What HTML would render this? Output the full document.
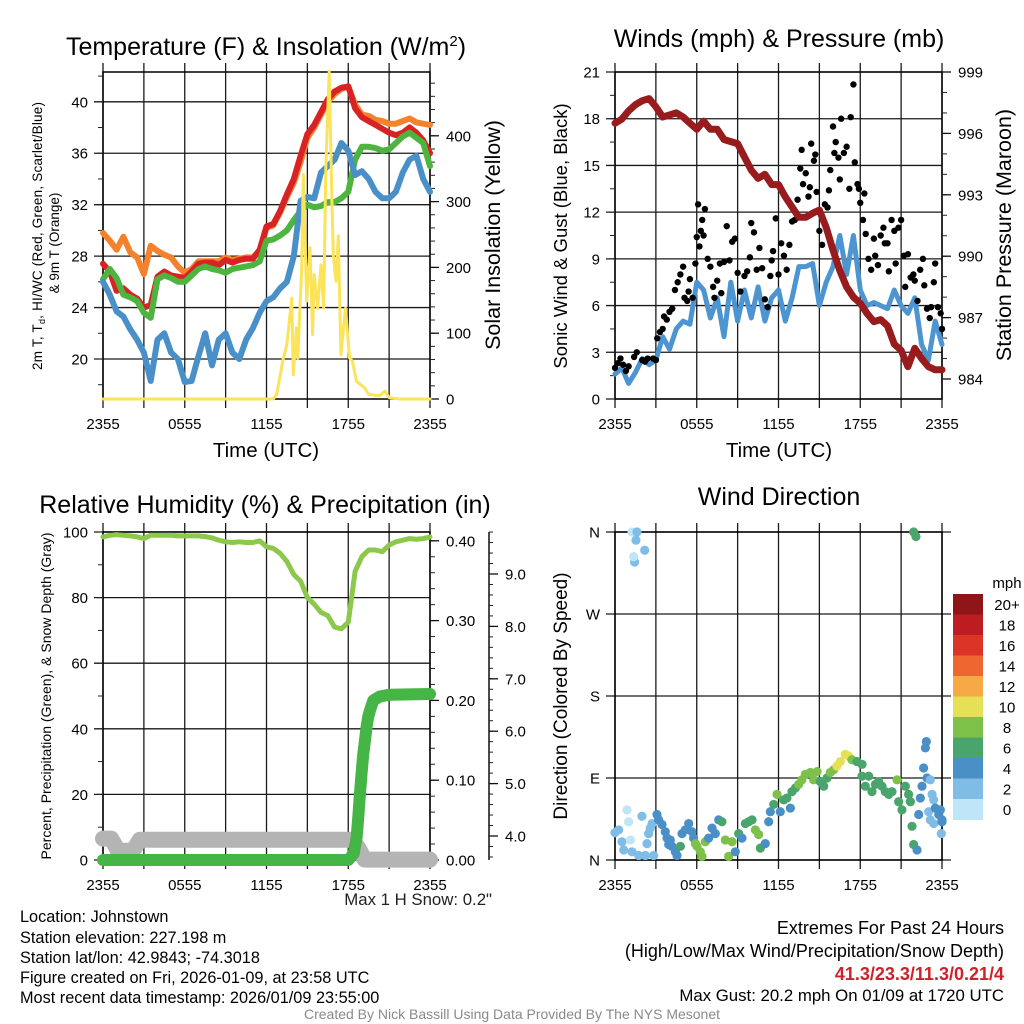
<!DOCTYPE html>
<html><head><meta charset="utf-8"><style>
html,body{margin:0;padding:0;background:#fff;}
svg{display:block;font-family:"Liberation Sans",Arial,sans-serif;}
</style></head><body>
<svg id="chart" width="1024" height="1024" viewBox="0 0 1024 1024" xmlns="http://www.w3.org/2000/svg">
<rect x="0" y="0" width="1024" height="1024" fill="#fff"/>
<g id="layer"></g>
<!-- titles -->
<text x="266" y="55" font-size="25" text-anchor="middle">Temperature (F) &amp; Insolation (W/m<tspan dy="-9" font-size="15">2</tspan><tspan dy="9">)</tspan></text>
<text x="779" y="47" font-size="25" text-anchor="middle">Winds (mph) &amp; Pressure (mb)</text>
<text x="265" y="513" font-size="25" text-anchor="middle">Relative Humidity (%) &amp; Precipitation (in)</text>
<text x="779" y="505" font-size="25" text-anchor="middle">Wind Direction</text>
<!-- axis titles -->
<text x="266" y="457" font-size="20.5" text-anchor="middle">Time (UTC)</text>
<text x="779" y="457" font-size="20.5" text-anchor="middle">Time (UTC)</text>
<text transform="translate(42,236) rotate(-90)" font-size="13.5" text-anchor="middle" textLength="268">2m T, T<tspan font-size="9" dy="3">d</tspan><tspan dy="-3">, HI/WC (Red, Green, Scarlet/Blue)</tspan></text>
<text transform="translate(59,243) rotate(-90)" font-size="13.5" text-anchor="middle">&amp; 9m T (Orange)</text>
<text transform="translate(500,235) rotate(-90)" font-size="21.5" text-anchor="middle">Solar Insolation (Yellow)</text>
<text transform="translate(567,236) rotate(-90)" font-size="18.5" text-anchor="middle">Sonic Wind &amp; Gust (Blue, Black)</text>
<text transform="translate(1011,235) rotate(-90)" font-size="21.5" text-anchor="middle">Station Pressure (Maroon)</text>
<text transform="translate(51,696) rotate(-90)" font-size="14" text-anchor="middle" textLength="327">Percent, Precipitation (Green), &amp; Snow Depth (Gray)</text>
<text transform="translate(567,696) rotate(-90)" font-size="19" text-anchor="middle">Direction (Colored By Speed)</text>
<!-- info text -->
<text x="492" y="905" font-size="16.8" text-anchor="end" fill="#222">Max 1 H Snow: 0.2"</text>
<g font-size="16.3" fill="#000">
<text x="20" y="922">Location: Johnstown</text>
<text x="20" y="943">Station elevation: 227.198 m</text>
<text x="20" y="963">Station lat/lon: 42.9843; -74.3018</text>
<text x="20" y="983">Figure created on Fri, 2026-01-09, at 23:58 UTC</text>
<text x="20" y="1003">Most recent data timestamp: 2026/01/09 23:55:00</text>
</g>
<g font-size="18" text-anchor="end">
<text x="1004" y="934">Extremes For Past 24 Hours</text>
<text x="1004" y="957">(High/Low/Max Wind/Precipitation/Snow Depth)</text>
<text x="1004" y="980" fill="#d02028" font-weight="bold">41.3/23.3/11.3/0.21/4</text>
<text x="1004" y="1001" font-size="16.8">Max Gust: 20.2 mph On 01/09 at 1720 UTC</text>
</g>
<text x="512" y="1019" font-size="14" fill="#8a8a8a" text-anchor="middle">Created By Nick Bassill Using Data Provided By The NYS Mesonet</text>
</svg>
<script>
// ---- data ----
const halfHours = [0,0.5,1,1.5,2,2.5,3,3.5,4,4.5,5,5.5,6,6.5,7,7.5,8,8.5,9,9.5,10,10.5,11,11.5,12,12.5,13,13.5,14,14.5,15,15.5,16,16.5,17,17.5,18,18.5,19,19.5,20,20.5,21,21.5,22,22.5,23,23.5,24];
const tempRed = [27.4,26.8,25.3,25.5,25.0,24.7,24.0,24.2,26.4,26.8,26.5,26.4,26.3,26.8,27.4,27.5,27.5,27.3,27.7,27.5,27.7,27.8,27.8,28.5,30.3,30.5,31.5,32.8,34.0,35.8,37.5,38.2,39.2,40.2,40.8,41.1,41.2,39.5,38.8,38.5,38.2,37.9,37.6,37.4,37.6,38.0,37.6,37.0,36.0];
const temp9m = [29.8,29.2,28.5,29.5,28.3,27.9,26.6,28.8,28.4,28.1,27.9,27.2,26.7,27.0,27.6,27.6,27.6,27.6,27.9,27.7,27.8,27.9,27.9,28.4,30.2,30.4,31.4,32.6,33.7,35.3,37.2,38.0,39.0,40.0,40.6,41.0,41.2,39.8,39.0,38.9,38.6,38.5,38.3,38.3,38.5,38.7,38.4,38.3,38.2];
const tempGreen = [26.2,27.0,26.3,25.0,24.8,24.5,23.6,23.2,26.2,26.5,26.3,26.0,26.0,26.5,27.0,27.2,27.0,26.9,26.7,27.0,27.1,27.2,27.3,27.6,29.2,29.3,29.6,30.0,30.8,31.5,32.0,31.8,31.9,32.2,32.2,32.5,33.0,35.5,36.5,36.5,36.4,36.2,36.3,36.8,37.3,37.6,37.2,36.8,35.0];
const tempBlue = [26.0,25.0,23.7,23.3,22.3,21.5,20.5,18.3,21.5,22.0,20.5,20.0,18.2,18.3,20.2,22.0,19.5,21.5,22.0,20.5,20.0,21.5,22.4,23.6,24.5,24.8,25.5,26.0,28.0,32.3,32.6,32.5,34.5,35.0,35.5,36.8,36.2,34.3,34.6,34.0,33.0,32.5,32.5,33.0,34.5,35.5,35.8,34.0,33.0];
const insTimes = [0,12.5,12.75,13.2,13.5,13.85,13.97,14.2,14.3,14.58,14.7,14.95,15.19,15.38,15.5,15.75,16,16.2,16.35,16.6,16.8,16.9,17.1,17.27,17.46,17.8,18.1,18.3,18.6,19.2,19.5,20.3,20.7,21,21.8,24];
const insValues = [0,0,7,58,83,153,37,108,62,199,341,149,230,98,189,138,204,138,351,498,301,219,179,248,67,138,62,58,27,17,7,5,12,2,0,0];
const windSpeed = [1.6,2.0,1.0,1.7,2.6,2.2,2.5,4.0,3.2,4.5,5.0,4.8,7.5,7.0,5.2,6.5,4.0,7.5,5.0,7.0,5.2,7.2,5.0,6.5,7.0,5.0,6.5,8.5,8.5,8.7,6.0,7.5,8.5,10.5,8.0,10.5,7.0,6.0,6.2,6.0,5.8,7.0,6.0,5.5,6.5,3.5,2.5,5.0,3.5];
const pressure = [996.5,996.7,997.1,997.4,997.6,997.7,997.3,996.8,996.9,997.0,996.8,996.5,996.2,996.6,996.2,996.2,995.7,995.6,995.5,994.85,994.2,993.8,994.0,993.5,993.5,992.9,992.4,991.9,991.9,992.1,992.25,991.4,990.3,989.3,988.5,988.0,987.7,987.2,986.8,986.9,986.6,985.7,985.4,984.6,985.5,985.0,984.6,984.45,984.45];
const gustTimes = [0,0.2,0.4,0.6,0.8,1.0,1.4,1.6,2.0,2.2,2.4,2.8,3.0,3.1,3.3,3.5,3.6,3.8,4.0,4.2,4.4,4.6,4.8,5.0,5.1,5.3,5.4,5.5,5.7,5.9,6.0,6.1,6.2,6.3,6.4,6.5,6.6,6.8,7.0,7.2,7.3,7.5,7.7,7.8,8.0,8.2,8.4,8.6,8.8,9.0,9.2,9.5,9.7,9.9,10.0,10.2,10.4,10.6,10.8,11.0,11.2,11.4,11.5,11.6,11.8,12.0,12.2,12.4,12.6,12.8,13.0,13.2,13.4,13.6,13.7,13.8,14.0,14.2,14.3,14.4,14.6,14.7,14.8,15.0,15.2,15.4,15.6,15.7,15.8,16.0,16.1,16.2,16.4,16.5,16.6,16.8,17.0,17.2,17.3,17.5,17.6,17.8,17.9,18.0,18.2,18.3,18.4,18.6,18.8,19.0,19.1,19.3,19.5,19.7,19.8,20.0,20.1,20.3,20.5,20.6,20.8,21.0,21.2,21.3,21.5,21.7,21.9,22.0,22.2,22.4,22.6,22.7,22.9,23.1,23.2,23.4,23.5,23.7,23.9,24.0];
const gustValues = [2.0,2.3,2.6,2.2,1.8,2.1,2.7,3.0,2.5,2.4,2.6,2.6,2.5,3.9,4.3,4.5,5.3,5.1,5.6,5.8,7.0,7.5,8.0,8.5,6.5,6.3,6.9,7.7,6.5,8.7,10.4,12.5,9.8,10.8,11.5,10.5,12.2,9.0,8.5,7.2,6.5,7.6,8.7,6.8,8.8,11.1,8.9,10.1,10.3,8.1,6.9,7.9,8.2,9.1,11.3,10.7,8.3,9.7,8.4,6.4,5.9,7.9,8.9,9.5,11.6,8.0,10.0,9.2,8.3,9.9,11.4,11.5,12.8,14.8,16.0,13.8,14.5,13.0,13.6,16.4,15.3,15.7,13.3,10.8,9.9,12.5,12.3,13.4,14.7,17.5,15.8,16.5,15.5,14.1,18.0,15.8,16.2,13.5,18.1,20.2,15.2,13.8,13.5,12.6,11.5,13.2,10.6,9.0,8.3,10.3,9.2,8.6,10.5,11.0,10.0,10.0,8.2,11.5,10.8,8.7,11.0,11.5,9.2,7.2,9.3,7.8,8.0,7.6,6.3,8.3,9.0,7.3,5.8,5.2,5.9,7.5,8.7,5.9,5.5,4.5];
const rh = [98.5,99,99.2,99,98.8,98.5,98,99,99,99,99,98.8,98.8,98.8,98.8,98.6,98.2,97.5,97,96.8,97,96.8,96.8,97.3,95.5,95,93.5,91,87,85,80,78,75.5,74.5,71,70.5,72.5,88,92.5,94.5,94.5,94,96,97,97.5,98,97.8,98,98.5];
const precipTimes = [0,18.0,18.4,18.62,18.74,18.86,18.98,19.1,19.23,19.35,19.47,19.6,19.84,20.33,21,24];
const precipValues = [0,0,0.008,0.029,0.054,0.084,0.109,0.132,0.150,0.167,0.180,0.188,0.200,0.205,0.207,0.208];
const snowTimes = [0,0.6,1.1,2.2,2.7,18.3,18.8,19.2,24];
const snowValues = [3.95,3.95,3.72,3.72,3.93,3.93,3.75,3.55,3.55];
const dirTimes = [0.0,0.27,0.51,0.88,1.0,1.13,0.64,1.25,1.74,1.98,2.23,2.35,2.47,2.59,2.72,2.84,3.08,3.2,3.45,3.69,3.82,3.94,4.06,4.18,4.43,4.55,4.8,4.92,5.16,5.41,5.65,5.77,5.9,6.02,6.26,6.39,6.63,6.87,7.12,7.36,7.61,7.85,8.1,8.34,8.59,8.83,9.08,9.32,9.57,9.81,10.06,10.3,10.54,10.67,11.03,11.28,11.4,11.65,11.89,12.13,12.38,12.62,12.87,12.99,13.24,13.48,13.72,13.97,14.34,14.58,14.83,15.07,15.32,15.56,15.8,16.05,16.29,16.54,16.9,17.15,17.39,17.76,18.13,18.13,18.37,18.62,18.86,19.11,19.35,19.6,19.84,20.09,20.33,20.7,20.82,21.06,21.31,21.55,21.68,21.8,21.92,21.92,22.09,22.17,22.29,22.41,22.53,22.65,22.78,22.85,22.9,23.14,23.27,23.39,23.02,23.14,23.39,23.51,23.76,23.88,24.0,23.95,24.0,1.25,1.61,1.54,1.44,1.37,2.18];
const dirValues = [30,33,20,55,42,22,11,9,5,48,5,18,29,35,40,5,50,44,39,31,24,17,22,15,9,5,15,29,33,40,31,24,18,15,9,4,20,24,35,29,44,42,22,4,20,9,29,24,40,42,44,33,28,13,18,42,53,61,72,53,66,68,57,75,79,83,88,94,96,88,97,86,81,90,96,99,103,108,116,114,110,108,105,92,81,92,75,83,86,81,75,72,75,88,64,55,81,72,64,37,17,360,355,11,50,68,81,101,123,130,90,88,72,66,53,44,40,57,50,55,42,29,44,360,360,351,327,333,340];
const dirSpeeds = [3,3,3,1,1,1,3,3,3,3,3,3,3,3,3,3,5,5,5,5,5,5,5,5,5,5,7,5,5,5,5,5,9,9,9,9,9,5,5,5,5,7,9,9,9,5,7,5,7,7,7,9,9,7,5,5,5,7,9,5,7,7,5,7,7,9,9,9,9,9,9,7,7,7,9,9,11,11,11,11,9,7,7,7,7,7,7,7,7,7,7,7,7,9,7,7,7,7,7,7,7,7,7,5,5,5,5,5,5,5,5,3,3,3,3,3,3,5,5,5,5,3,5,1,3,3,3,1,3];
const colorbarLabels = ["0","2","4","6","8","10","12","14","16","18","20+"];
const colorbarColors = ["#bfe6f8","#80bde6","#4a8fc6","#4aa56d","#7dc14a","#e6e057","#f6a944","#ef6730","#dd3428","#bd1c22","#8f1518"];
const timeTickLabels = ["2355","0555","1155","1755","2355"];

// ---- helpers ----
const NS = "http://www.w3.org/2000/svg";
const layer = document.getElementById("layer");
function mk(tag, attrs, parent) {
  const el = document.createElementNS(NS, tag);
  for (const k in attrs) el.setAttribute(k, attrs[k]);
  (parent || layer).appendChild(el);
  return el;
}
function linScale(d0, d1, r0, r1) { return v => r0 + (v - d0) / (d1 - d0) * (r1 - r0); }

const panels = {
  temp: {x0:103, x1:430, y0:72, y1:399},
  wind: {x0:615, x1:942, y0:72, y1:399},
  rh:   {x0:103, x1:430, y0:532, y1:860},
  dir:  {x0:615, x1:942, y0:532, y1:860}
};
for (const k in panels) { const p = panels[k]; p.x = linScale(0, 24, p.x0, p.x1); }

const yTemp = linScale(20, 40, 359, 101.8);
const yIns = linScale(0, 400, 399, 135.8);
const yWind = linScale(0, 21, 399, 72);
const yPres = linScale(984, 999, 379, 72);
const yRH = linScale(0, 100, 860, 532);
const yPrecip = linScale(0, 0.4, 860, 540.8);
const ySnow = linScale(4, 9, 836, 574);
const yDir = linScale(0, 360, 860, 532);

function drawFrame(p, name, hMajors, yF, labels, rightGrid) {
  const g = mk("g", {});
  
  
  hMajors.forEach((v, i) => {
    const y = yF(v);
    const ln = mk("line", {x1:p.x0-9, x2:p.x1 + (rightGrid ? 9 : 0), y1:y, y2:y, stroke:"#1a1a1a", "stroke-width":1.3}, g);
    
    
    const tx = mk("text", {x:p.x0-15, y:y+5.5, "font-size":15, "text-anchor":"end"}, g);
    tx.textContent = labels[i];
    
    
  });
  for (let h = 0; h <= 24; h += 3) {
    const x = p.x(h);
    const ln = mk("line", {x1:x, x2:x, y1:p.y0-9, y2:p.y1+9, stroke:"#1a1a1a", "stroke-width":1.3}, g);
    
    
  }
  timeTickLabels.forEach((s, i) => {
    const tx = mk("text", {x:p.x(i*6), y:p.y1+30, "font-size":15, "text-anchor":"middle"}, g);
    tx.textContent = s;
    
    
  });
  const fr = mk("rect", {x:p.x0, y:p.y0, width:p.x1-p.x0, height:p.y1-p.y0, fill:"none", stroke:"#000", "stroke-width":1.5}, g);
  
  
}
function minorTicks(x, from, to, step, yF, side, len, name) {
  for (let v = from; v <= to + 1e-9; v += step) {
    const y = yF(v);
    const ln = mk("line", {x1:x, x2:x + side*len, y1:y, y2:y, stroke:"#222", "stroke-width":1});
    
    
  }
}
function rightAxis(p, majors, labels, yF, name, x0) {
  const ax = x0 || p.x1;
  majors.forEach((v, i) => {
    const y = yF(v);
    const ln = mk("line", {x1:ax, x2:ax+9, y1:y, y2:y, stroke:"#111", "stroke-width":1.3});
    
    
    const tx = mk("text", {x:ax+16, y:y+5.5, "font-size":15});
    tx.textContent = labels[i];
    
    
  });
}
function path(xs, ys, p, yF, attrs, name) {
  const d = xs.map((t, i) => (i ? "L" : "M") + p.x(t).toFixed(1) + "," + yF(ys[i]).toFixed(1)).join("");
  const el = mk("path", Object.assign({d:d, fill:"none", "stroke-linejoin":"round", "stroke-linecap":"round"}, attrs));
  
  
  return el;
}

// ---- Panel 1: temperature ----
const P1 = panels.temp;
drawFrame(P1, "temperature", [20,24,28,32,36,40], yTemp, ["20","24","28","32","36","40"]);
minorTicks(P1.x0, 18, 42, 2, yTemp, -1, 5, "temperature-minor-tick");
minorTicks(P1.x1, 0, 480, 20, yIns, 1, 5, "insolation-minor-tick");
rightAxis(P1, [0,100,200,300,400], ["0","100","200","300","400"], yIns, "insolation-axis");
path(halfHours, temp9m, P1, yTemp, {stroke:"#f4822c","stroke-width":6}, "series-9m-temperature");
path(halfHours, tempRed, P1, yTemp, {stroke:"#d92224","stroke-width":6}, "series-2m-temperature");
path(halfHours, tempGreen, P1, yTemp, {stroke:"#4cb43f","stroke-width":6}, "series-dewpoint");
path(halfHours, tempBlue, P1, yTemp, {stroke:"#4a90c8","stroke-width":6}, "series-heat-index-wind-chill");
path(insTimes, insValues, P1, yIns, {stroke:"#fbe35a","stroke-width":3}, "series-solar-insolation");

// ---- Panel 2: winds ----
const P2 = panels.wind;
drawFrame(P2, "winds", [0,3,6,9,12,15,18,21], yWind, ["0","3","6","9","12","15","18","21"]);
minorTicks(P2.x0, 0, 21, 1.5, yWind, -1, 5, "wind-minor-tick");
minorTicks(P2.x1, 984, 999, 1, yPres, 1, 5, "pressure-minor-tick");
rightAxis(P2, [984,987,990,993,996,999], ["984","987","990","993","996","999"], yPres, "pressure-axis");
path(halfHours, windSpeed, P2, yWind, {stroke:"#4d95d0","stroke-width":5}, "series-sonic-wind");
gustTimes.forEach((t, i) => {
  const c = mk("circle", {cx:P2.x(t), cy:yWind(gustValues[i]), r:3.2, fill:"#000"});
  
  
});
path(halfHours, pressure, P2, yPres, {stroke:"#981b1e","stroke-width":7}, "series-station-pressure");

// ---- Panel 3: humidity ----
const P3 = panels.rh;
drawFrame(P3, "humidity", [0,20,40,60,80,100], yRH, ["0","20","40","60","80","100"]);
minorTicks(P3.x0, 0, 100, 10, yRH, -1, 5, "humidity-minor-tick");
minorTicks(P3.x1, 0, 0.4, 0.02, yPrecip, 1, 5, "precip-minor-tick");
rightAxis(P3, [0,0.1,0.2,0.3,0.4], ["0.00","0.10","0.20","0.30","0.40"], yPrecip, "precip-axis");
const snowAxis = mk("line", {x1:489, x2:489, y1:532, y2:860, stroke:"#111", "stroke-width":1.5});


minorTicks(489, 3.6, 9.8, 0.2, ySnow, 1, 4, "snow-minor-tick");
rightAxis(P3, [4,5,6,7,8,9], ["4.0","5.0","6.0","7.0","8.0","9.0"], ySnow, "snow-axis", 489);
path(snowTimes, snowValues, P3, ySnow, {stroke:"#b4b4b4","stroke-width":16}, "series-snow-depth");
path(precipTimes, precipValues, P3, yPrecip, {stroke:"#45b545","stroke-width":12}, "series-precipitation");
path(halfHours, rh, P3, yRH, {stroke:"#8cc84b","stroke-width":5}, "series-relative-humidity");

// ---- Panel 4: wind direction ----
const P4 = panels.dir;
drawFrame(P4, "direction", [0,90,180,270,360], yDir, ["N","E","S","W","N"], true);
function speedColor(s) { return colorbarColors[Math.min(10, Math.floor(s / 2))]; }
dirTimes.forEach((t, i) => {
  const c = mk("circle", {cx:P4.x(t), cy:yDir(dirValues[i]), r:4.6, fill:speedColor(dirSpeeds[i])});
  
  
});
const cbTop = 594, cbH = 20.5;
const mph = mk("text", {x:1007, y:588, "font-size":15, "text-anchor":"middle"});
mph.textContent = "mph";


colorbarColors.slice().reverse().forEach((col, i) => {
  const r = mk("rect", {x:953, y:cbTop + i*cbH, width:30, height:cbH+0.5, fill:col});
  
  
  const tx = mk("text", {x:1007, y:cbTop + i*cbH + cbH/2 + 5.5, "font-size":15, "text-anchor":"middle"});
  tx.textContent = colorbarLabels[10 - i];
  
  
});
</script>
</body></html>
